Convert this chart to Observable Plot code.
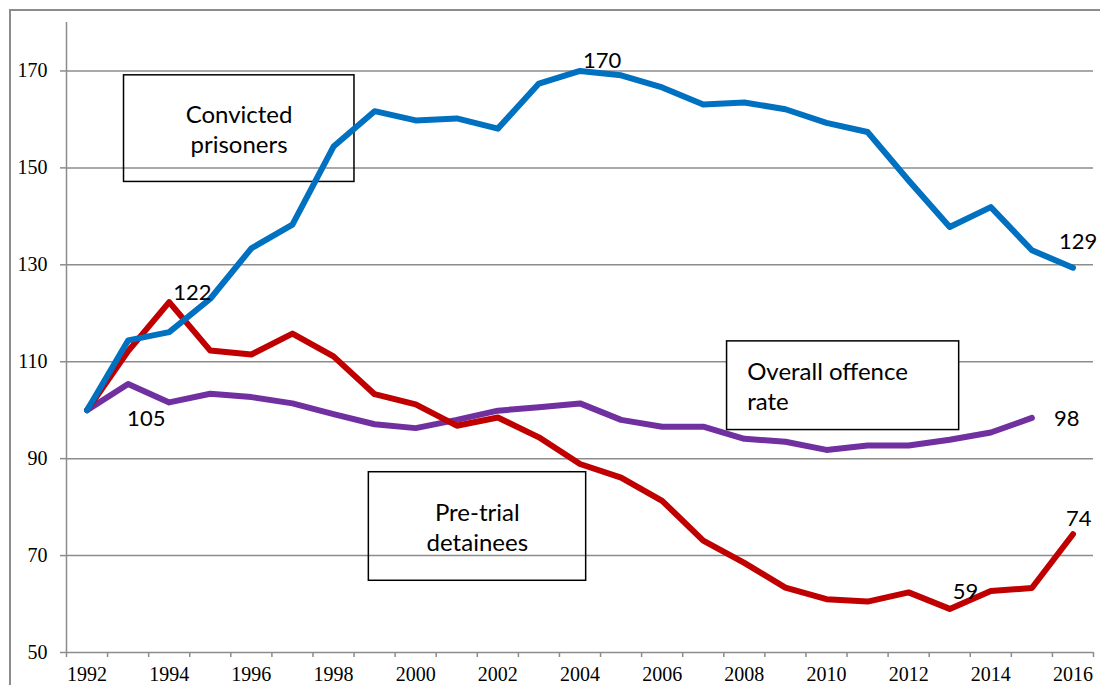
<!DOCTYPE html>
<html>
<head>
<meta charset="utf-8">
<script src="https://cdn.jsdelivr.net/npm/d3@7"></script>
<script src="https://cdn.jsdelivr.net/npm/@observablehq/plot@0.6"></script>
<style>
  body { margin: 0; background: #fff; }
  #wrap { position: relative; width: 1100px; height: 685px; overflow: hidden; background: #fff; }
  #border { position: absolute; left: 9px; top: 9px; width: 1200px; height: 800px; border: 2px solid #8c8c8c; box-sizing: border-box; }
  #chart { position: absolute; left: 0; top: 0; }
</style>
</head>
<body>
<div id="wrap"><div id="border"></div><div id="chart"></div></div>
<script>
// ---- data (index, 1992 = 100) ----
const years = [1992,1993,1994,1995,1996,1997,1998,1999,2000,2001,2002,2003,2004,2005,2006,2007,2008,2009,2010,2011,2012,2013,2014,2015,2016];
const convicted = [100,114.4,116.1,123.0,133.4,138.3,154.4,161.7,159.8,160.2,158.1,167.4,170.0,169.1,166.6,163.1,163.5,162.1,159.3,157.4,147.4,137.8,141.9,133.0,129.4];
const pretrial  = [100,112.2,122.3,112.3,111.5,115.8,111.1,103.3,101.2,96.8,98.5,94.4,88.9,86.1,81.3,73.1,68.5,63.4,61.0,60.5,62.4,59.0,62.7,63.3,74.4];
const offence   = [100,105.4,101.6,103.4,102.7,101.4,99.2,97.1,96.3,98.0,99.9,100.6,101.4,98.0,96.6,96.6,94.1,93.5,91.8,92.7,92.7,93.9,95.4,98.4,null];
const yTicks = [50,70,90,110,130,150,170];
const xLabels = [1992,1994,1996,1998,2000,2002,2004,2006,2008,2010,2012,2014,2016];
const seriesNames = ["Convicted prisoners", "Pre-trial detainees", "Overall offence rate"];

// ---- table built from the arrays ----
const rows = [];
[convicted, pretrial, offence].forEach((vals, i) => {
  years.forEach((yr, j) => {
    if (vals[j] != null) rows.push({series: seriesNames[i], year: yr, value: vals[j]});
  });
});
const colors = {"Convicted prisoners": "#0070C0", "Pre-trial detainees": "#C00000", "Overall offence rate": "#7030A0"};
const lookup = (s, yr) => rows.find(r => r.series === s && r.year === yr);

// category boundaries (Excel-style tick marks between years)
const boundaries = years.map(y => y - 0.5).concat([years[years.length - 1] + 0.5]);

// ---- annotations ----
const boxes = [
  {label: "Convicted\nprisoners", x1: 1992.90, x2: 1998.51, y1: 147.1, y2: 169.1, tx: 1995.70, anchor: "middle", fill: "none"},
  {label: "Pre-trial\ndetainees", x1: 1998.86, x2: 2004.15, y1: 64.8, y2: 87.2, tx: 2001.50, anchor: "middle", fill: "none"},
  {label: "Overall offence\nrate", x1: 2007.58, x2: 2013.23, y1: 95.9, y2: 114.2, tx: 2008.07, anchor: "start", fill: "white"}
];
const pointLabels = [
  {series: "Convicted prisoners", year: 2004, dx: 3, dy: -10},
  {series: "Convicted prisoners", year: 2016, dx: -14, dy: -26},
  {series: "Pre-trial detainees", year: 1994, dx: 4, dy: -9},
  {series: "Pre-trial detainees", year: 2013, dx: 3, dy: -17},
  {series: "Pre-trial detainees", year: 2016, dx: -7, dy: -15},
  {series: "Overall offence rate", year: 1993, dx: -1, dy: 35},
  {series: "Overall offence rate", year: 2015, dx: 22, dy: 1}
];

const grey = "#8c8c8c";
const lineMark = (s) => Plot.line(rows.filter(r => r.series === s), {
  x: "year", y: "value", stroke: colors[s], strokeWidth: 6,
  strokeLinejoin: "round", strokeLinecap: "round"
});
const boxRect = (b) => Plot.rect([b], {x1: "x1", x2: "x2", y1: "y1", y2: "y2", fill: b.fill, stroke: "black", strokeWidth: 1.5});
const boxText = (b) => Plot.text([b], {
  x: "tx", y: d => (d.y1 + d.y2) / 2, text: "label", textAnchor: b.anchor, lineAnchor: "middle",
  fontFamily: "Lato", fontSize: 24, lineHeight: 1.25, fill: "black"
});

const chart = Plot.plot({
  width: 1100,
  height: 685,
  marginLeft: 66,
  marginRight: 7,
  marginTop: 22,
  marginBottom: 33,
  x: {domain: [1991.5, 2016.5], axis: null},
  y: {domain: [50, 180], axis: null},
  style: {fontFamily: "Liberation Serif", fontSize: "20px", background: "transparent", color: "black"},
  marks: [
    Plot.ruleY(yTicks.slice(1), {stroke: grey, strokeWidth: 1.5}),
    Plot.ruleX([1991.5], {stroke: grey, strokeWidth: 1.5}),
    Plot.ruleY([50], {stroke: grey, strokeWidth: 1.5}),
    Plot.axisY({ticks: yTicks, tickSize: 6, tickPadding: 13, stroke: grey, strokeWidth: 1.5, fill: "black", fontSize: 20, label: null}),
    Plot.axisX({ticks: boundaries, tickSize: 5, tickFormat: () => "", stroke: grey, strokeWidth: 1.5, label: null}),
    Plot.axisX({ticks: xLabels, tickSize: 0, tickPadding: 14, tickFormat: d => String(d), fill: "black", fontSize: 20, label: null}),
    boxRect(boxes[0]),
    boxText(boxes[0]),
    boxRect(boxes[1]),
    boxText(boxes[1]),
    lineMark("Overall offence rate"),
    lineMark("Pre-trial detainees"),
    lineMark("Convicted prisoners"),
    boxRect(boxes[2]),
    boxText(boxes[2]),
    ...pointLabels.map(p => Plot.text([lookup(p.series, p.year)], {
      x: "year", y: "value", text: d => String(Math.round(d.value)),
      textAnchor: "start", lineAnchor: "middle", dx: p.dx, dy: p.dy,
      fontFamily: "Lato", fontSize: 22, fill: "black"
    }))
  ]
});
document.getElementById("chart").appendChild(chart);
</script>
</body>
</html>
